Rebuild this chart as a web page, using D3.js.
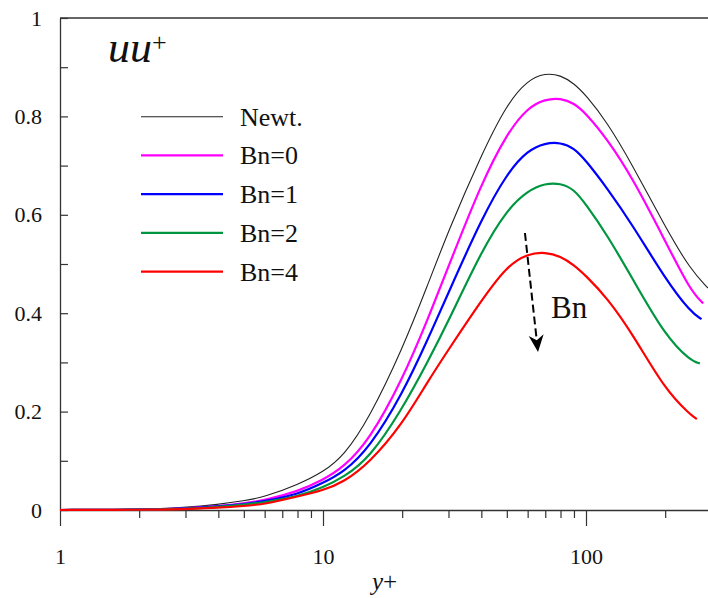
<!DOCTYPE html>
<html><head><meta charset="utf-8">
<script src="https://cdn.jsdelivr.net/npm/d3@7"></script>
<style>
body{margin:0;background:#fff;}
svg{display:block;}
</style>
</head><body>
<svg id="chart" width="708" height="598"></svg>
<script>
// ---------- data ----------
const seriesNames = ["Newt.", "Bn=0", "Bn=1", "Bn=2", "Bn=4"];
const seriesColors = ["#222222", "#ff00ff", "#0000ff", "#009640", "#ff0000"];

// common y+ grid, plus the last y+ of each series
const yPlusGrid = [1, 2, 3, 4, 5, 6, 8, 10, 12, 15, 20, 25, 30, 40, 50, 60, 70, 80, 90, 100, 120, 150, 200, 250];
const seriesEndX = [291, 279, 275, 271, 264];

const newtY = [0, 0.001, 0.005, 0.0114, 0.0185, 0.0266, 0.0512, 0.077, 0.110, 0.187, 0.326, 0.457, 0.568, 0.722, 0.825, 0.874, 0.888, 0.884, 0.867, 0.843, 0.789, 0.702, 0.575, 0.488, 0.451];
const bn0Y  = [0, 0.0006, 0.003, 0.0079, 0.0134, 0.0197, 0.0374, 0.061, 0.0874, 0.142, 0.264, 0.387, 0.495, 0.664, 0.765, 0.818, 0.835, 0.837, 0.827, 0.806, 0.755, 0.676, 0.547, 0.445, 0.420];
const bn1Y  = [0, 0.0006, 0.0027, 0.0071, 0.012, 0.0177, 0.0315, 0.0549, 0.0772, 0.126, 0.235, 0.346, 0.442, 0.591, 0.684, 0.731, 0.746, 0.747, 0.736, 0.710, 0.655, 0.580, 0.470, 0.402, 0.388];
const bn2Y  = [0, 0.0006, 0.002, 0.0063, 0.0108, 0.0157, 0.0274, 0.0455, 0.067, 0.105, 0.205, 0.301, 0.384, 0.526, 0.610, 0.649, 0.664, 0.664, 0.652, 0.621, 0.560, 0.471, 0.354, 0.303, 0.298];
const bn4Y  = [0, 0.0004, 0.0016, 0.0047, 0.0081, 0.0118, 0.0274, 0.0398, 0.0569, 0.0955, 0.174, 0.261, 0.326, 0.426, 0.496, 0.521, 0.524, 0.516, 0.498, 0.476, 0.432, 0.359, 0.244, 0.193, 0.185];

const xMajorTicks = [1, 10, 100];
const xMinorTicks = [2, 3, 4, 5, 6, 7, 8, 9, 20, 30, 40, 50, 60, 70, 80, 90, 200, 300, 400, 500];
const yMajorTicks = [0, 0.2, 0.4, 0.6, 0.8, 1];
const yMinorTicks = [0.1, 0.3, 0.5, 0.7, 0.9];

// annotation arrow (data coordinates)
const arrowFrom = [58.6, 0.563];
const arrowTo = [65.7, 0.321];
const arrowLabel = {text: "Bn", x: 73.6, y: 0.39};

// ---------- drawing ----------
const FONT = "'Liberation Serif', 'Times New Roman', Times, 'DejaVu Serif', serif";
const svg = d3.select("#chart");
const padL = 60, padT = 18, padB = 510, decade = 263;
const x = d3.scaleLog().domain([1, 1000]).range([padL, padL + 3 * decade]);
const y = d3.scaleLinear().domain([0, 1]).range([padB, padT]);
const axisColor = "#333";

const allY = [newtY, bn0Y, bn1Y, bn2Y, bn4Y];
const series = seriesNames.map((name, i) => ({
  name,
  color: seriesColors[i],
  w: i === 0 ? 1.1 : 2.2,
  pts: yPlusGrid.map((xv, j) => [xv, allY[i][j]]).concat([[seriesEndX[i], allY[i][yPlusGrid.length]]])
}));

// top frame line
svg.append("line").attr("x1", padL).attr("x2", 708).attr("y1", padT).attr("y2", padT)
  .attr("stroke", axisColor).attr("stroke-width", 1.3);

// x axis
const gx = svg.append("g").attr("transform", `translate(0,${padB})`);
gx.call(d3.axisBottom(x).tickValues(xMajorTicks).tickFormat(d3.format("d"))
  .tickSizeInner(16).tickSizeOuter(0).tickPadding(22));
const gxm = svg.append("g").attr("transform", `translate(0,${padB})`);
gxm.call(d3.axisBottom(x).tickValues(xMinorTicks).tickFormat("").tickSizeInner(8).tickSizeOuter(0));
gxm.select(".domain").remove();

// y axis
const gy = svg.append("g").attr("transform", `translate(${padL},0)`);
gy.call(d3.axisLeft(y).tickValues(yMajorTicks).tickFormat(d => d === 0 || d === 1 ? d3.format("d")(d) : d3.format(".1f")(d))
  .tickSizeInner(-8).tickSizeOuter(0).tickPadding(18));
const gym = svg.append("g").attr("transform", `translate(${padL},0)`);
gym.call(d3.axisLeft(y).tickValues(yMinorTicks).tickFormat("").tickSizeInner(-8).tickSizeOuter(0));
gym.select(".domain").remove();

svg.selectAll("g").attr("font-family", null);
svg.selectAll(".tick line").attr("stroke", axisColor).attr("stroke-width", 1.2);
svg.selectAll(".domain").attr("stroke", axisColor).attr("stroke-width", 1.3);
svg.selectAll(".tick text").style("font-family", FONT).style("font-size", "22px").attr("fill", "#111");

// curves
const line = d3.line().x(d => x(d[0])).y(d => y(d[1])).curve(d3.curveBasis);
const plot = svg.append("g");
series.forEach(s => {
  plot.append("path").datum(s.pts).attr("d", line)
    .attr("fill", "none").attr("stroke", s.color).attr("stroke-width", s.w)
    .attr("stroke-linejoin", "round");
});

// legend
const legendY0 = 116.7, legendDy = 38.75;
series.forEach((s, i) => {
  const ly = legendY0 + i * legendDy;
  svg.append("line").attr("x1", 141).attr("x2", 223).attr("y1", ly).attr("y2", ly)
    .attr("stroke", s.color).attr("stroke-width", s.w);
  svg.append("text").attr("x", 240).attr("y", ly + 9)
    .style("font-family", FONT).style("font-size", "26px").attr("fill", "#111").text(s.name);
});

// title uu+
const title = svg.append("text").attr("x", 108).attr("y", 62)
  .style("font-family", FONT).style("font-size", "44px").style("font-style", "italic").attr("fill", "#111");
title.append("tspan").text("uu");
title.append("tspan").style("font-size", "26px").style("font-style", "normal").attr("dy", -11).text("+");

// x axis label y+
const xl = svg.append("text").attr("x", 372).attr("y", 590)
  .style("font-family", FONT).style("font-size", "25px").attr("fill", "#111");
xl.append("tspan").style("font-style", "italic").text("y");
xl.append("tspan").text("+");

// arrow annotation
const ax1 = x(arrowFrom[0]), ay1 = y(arrowFrom[1]);
const ax2 = x(arrowTo[0]), ay2 = y(arrowTo[1]);
const ang = Math.atan2(ay2 - ay1, ax2 - ax1);
const headLen = 17, headW = 7.5, notch = 5;
const bx = ax2 - headLen * Math.cos(ang), by = ay2 - headLen * Math.sin(ang);
const nx = ax2 - (headLen - notch) * Math.cos(ang), ny = ay2 - (headLen - notch) * Math.sin(ang);
svg.append("line").attr("x1", ax1).attr("y1", ay1).attr("x2", nx).attr("y2", ny)
  .attr("stroke", "#000").attr("stroke-width", 2).attr("stroke-dasharray", "8,4");
const perpX = -Math.sin(ang), perpY = Math.cos(ang);
svg.append("path")
  .attr("d", `M${ax2},${ay2} L${bx + perpX * headW},${by + perpY * headW} L${nx},${ny} L${bx - perpX * headW},${by - perpY * headW} Z`)
  .attr("fill", "#000");
svg.append("text").attr("x", x(arrowLabel.x)).attr("y", y(arrowLabel.y))
  .style("font-family", FONT).style("font-size", "31px").attr("fill", "#111").text(arrowLabel.text);
</script>
</body></html>
